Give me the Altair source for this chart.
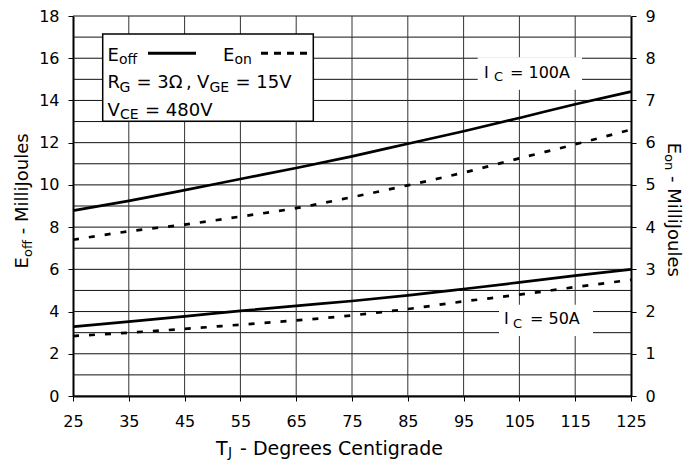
import altair as alt
import pandas as pd

# ---- data ----
tj = [25, 35, 45, 55, 65, 75, 85, 95, 105, 115, 125]
eoff_100a = [8.78, 9.24, 9.75, 10.28, 10.80, 11.35, 11.95, 12.54, 13.17, 13.82, 14.42]
eon_100a = [3.70, 3.90, 4.06, 4.25, 4.45, 4.71, 4.99, 5.29, 5.63, 5.96, 6.31]
eoff_50a = [3.28, 3.52, 3.77, 4.03, 4.27, 4.50, 4.77, 5.07, 5.38, 5.70, 6.00]
eon_50a = [1.42, 1.50, 1.59, 1.69, 1.79, 1.91, 2.06, 2.24, 2.40, 2.58, 2.75]

x_ticks = list(range(25, 126, 10))
left_ticks = list(range(0, 19, 2))
right_ticks = list(range(0, 10))
h_grid = list(range(0, 19))
v_grid = list(range(35, 116, 10))

FONT = "DejaVu Sans"
W, H = 558, 380
K = H / 387.0  # vertical scale for in-plot annotation offsets

eoff_df = pd.DataFrame({"tj": tj * 2, "e": eoff_100a + eoff_50a,
                        "ic": ["100A"] * len(tj) + ["50A"] * len(tj)})
eon_df = pd.DataFrame({"tj": tj * 2, "e": eon_100a + eon_50a,
                       "ic": ["100A"] * len(tj) + ["50A"] * len(tj)})
one = pd.DataFrame({"k": [0]})

x_scale = alt.Scale(domain=[25, 125], nice=False, zero=False)
x_axis = alt.Axis(values=x_ticks, title=None, grid=False, labelFont=FONT,
                  labelFontSize=16, labelColor="black", tickColor="black",
                  tickSize=5, tickWidth=1, domainColor="black", domainWidth=2,
                  labelPadding=12, labelFlush=False, labelOverlap=False)
left_scale = alt.Scale(domain=[0, 18], nice=False, zero=True)
left_axis = alt.Axis(values=left_ticks, title=None, grid=False, orient="left",
                     labelFont=FONT, labelFontSize=16, labelColor="black",
                     tickColor="black", tickSize=5, tickWidth=1,
                     domainColor="black", domainWidth=2, labelPadding=9,
                     labelFlush=False, labelOverlap=False)
right_scale = alt.Scale(domain=[0, 9], nice=False, zero=True)
right_axis = alt.Axis(values=right_ticks, title=None, grid=False, orient="right",
                      labelFont=FONT, labelFontSize=16, labelColor="black",
                      tickColor="black", tickSize=5, tickWidth=1,
                      domainColor="black", domainWidth=2, labelPadding=9,
                      labelFlush=False, labelOverlap=False)

X = alt.X("tj:Q", scale=x_scale, axis=x_axis)

hgrid = alt.Chart(pd.DataFrame({"g": h_grid})).mark_rule(
    color="#111", strokeWidth=1).encode(
    y=alt.Y("g:Q", scale=left_scale, axis=left_axis))
vgrid = alt.Chart(pd.DataFrame({"tj": v_grid})).mark_rule(
    color="#333", strokeWidth=1).encode(x=X)


def box(x1, x2, y1, y2, stroke=None):
    kw = dict(fill="white")
    if stroke:
        kw.update(stroke=stroke, strokeWidth=1.5)
    return alt.Chart(one).mark_rect(**kw).encode(
        x=alt.value(x1), x2=alt.value(x2), y=alt.value(y1 * K), y2=alt.value(y2 * K))


def txt(s, x, y, size, angle=0, scale=True):
    kw = dict(text=s, font=FONT, fontSize=size, color="black",
              align="left", baseline="alphabetic")
    if angle:
        kw["angle"] = angle
    yy = y * K if scale else y
    return alt.Chart(one).mark_text(**kw).encode(x=alt.value(x), y=alt.value(yy))


eoff_lines = alt.Chart(eoff_df).mark_line(
    color="black", strokeWidth=2.7, interpolate="monotone").encode(
    x=X, y=alt.Y("e:Q", scale=left_scale, axis=left_axis), detail="ic:N")

box100 = box(404.7, 509, 42, 75)
box50 = box(426, 520, 294, 326)
legend_box = box(29.7, 240.3, 18.3, 107.3, stroke="black")

solid_sample = alt.Chart(one).mark_rule(color="black", strokeWidth=3).encode(
    x=alt.value(75), x2=alt.value(123), y=alt.value(38 * K))
dash_sample = alt.Chart(one).mark_rule(color="black", strokeWidth=3,
                                       strokeDash=[7, 6]).encode(
    x=alt.value(188), x2=alt.value(236), y=alt.value(38 * K))

texts = [
    # legend
    txt("E", 34.5, 45.5, 18), txt("off", 46, 49, 14),
    txt("E", 150, 45.5, 18), txt("on", 161.5, 49, 14),
    txt("R", 34.5, 73.5, 18), txt("G", 46.5, 77, 14),
    txt("= 3Ω", 63.5, 73.5, 18), txt(",", 113, 73.5, 18),
    txt("V", 124, 73.5, 18), txt("GE", 136.5, 77, 14),
    txt("= 15V", 162.5, 73.5, 18),
    txt("V", 34.5, 101.7, 18), txt("CE", 47, 105.2, 14),
    txt("= 480V", 72, 101.7, 18),
    # current labels
    txt("I", 411, 63, 16), txt("C", 421, 66.5, 13), txt("= 100A", 437, 63, 16),
    txt("I", 431, 314, 16), txt("C", 440, 317.5, 13), txt("= 50A", 457, 314, 16),
    # x title (below the plot)
    txt("T", 143, 438.5, 19, scale=False), txt("J", 155, 441, 14, scale=False),
    txt("- Degrees Centigrade", 167, 438.5, 19, scale=False),
    # left title
    txt("E", -44.7, 252.4, 18, 270, scale=False),
    txt("off", -41.2, 241, 13, 270, scale=False),
    txt("- MilliJoules", -44.7, 218.2, 18, 270, scale=False),
    # right title
    txt("E", 595, 126.7, 18, 90, scale=False),
    txt("on", 591.5, 138.1, 13, 90, scale=False),
    txt("- MilliJoules", 595, 160, 18, 90, scale=False),
]

left = alt.layer(hgrid, vgrid, box100, box50, eoff_lines, legend_box,
                 solid_sample, dash_sample, *texts)

right = alt.Chart(eon_df).mark_line(
    color="black", strokeWidth=2.7, strokeDash=[6, 10],
    interpolate="monotone").encode(
    x=X, y=alt.Y("e:Q", scale=right_scale, axis=right_axis), detail="ic:N")

chart = alt.layer(left, right).resolve_scale(y="independent").properties(
    width=W, height=H,
    padding={"left": 65, "top": 8, "right": 59, "bottom": 64},
    autosize=alt.AutoSizeParams(type="none"),
    background="white",
).configure_view(stroke=None)

chart.save("out.html", embed_options={"renderer": "svg", "actions": False})
